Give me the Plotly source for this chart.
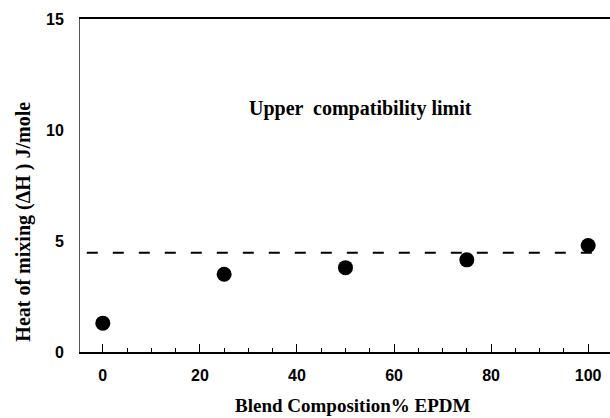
import plotly.graph_objects as go

# Data
composition = [0, 25, 50, 75, 100]           # % EPDM
heat_of_mixing = [1.3, 3.5, 3.8, 4.15, 4.8]   # J/mole
upper_limit = 4.47
limit_x = [-3.3, 103.5]
x_ticks = [0, 20, 40, 60, 80, 100]
y_ticks = [0, 5, 10, 15]

serif = "Liberation Serif, Times New Roman, serif"
sans = "Liberation Sans, Arial, sans-serif"

fig = go.Figure()
fig.add_trace(go.Scatter(
    x=limit_x, y=[upper_limit] * len(limit_x), mode="lines",
    line=dict(color="black", width=2, dash="11px,15px"),
    hoverinfo="skip", showlegend=False))
fig.add_trace(go.Scatter(
    x=composition, y=heat_of_mixing, mode="markers",
    marker=dict(color="black", size=15), showlegend=False))

fig.add_annotation(x=53, y=10.95, text="<b>Upper  compatibility limit</b>",
                   showarrow=False, font=dict(family=serif, size=20, color="black"))

# y-axis title (placed slightly below centre, as in the original)
fig.add_annotation(xref="paper", yref="paper", x=0, y=0.39, xshift=-70,
                   text="<b>Heat of mixing (ΔH ) J/mole</b>", textangle=-90,
                   showarrow=False, font=dict(family=serif, size=20, color="black"))

# x-axis title
fig.add_annotation(xref="x", yref="paper", x=51.5, y=0, yshift=-53, yanchor="middle",
                   text="<b>Blend Composition% EPDM</b>",
                   showarrow=False, font=dict(family=serif, size=19, color="black"))

fig.update_layout(
    width=610, height=418,
    margin=dict(l=80, r=0, t=19, b=66),
    paper_bgcolor="white", plot_bgcolor="white",
    xaxis=dict(
        range=[-4.7, 104.5], tickvals=x_ticks, ticktext=[f"<b>{v}</b>" for v in x_ticks],
        showgrid=False, zeroline=False, showline=True, linecolor="black", linewidth=1.5,
        mirror=True, ticks="inside", ticklen=8, tickwidth=1, tickcolor="black",
        minor=dict(dtick=5, ticks="inside", ticklen=4, tickwidth=1, tickcolor="black", showgrid=False),
        tickfont=dict(family=sans, size=16, color="black"), ticklabelstandoff=8,
    ),
    yaxis=dict(
        range=[0, 15], tickvals=y_ticks, ticktext=[f"<b>{v}</b>" for v in y_ticks],
        showgrid=False, zeroline=False, showline=True, linecolor="#555", linewidth=1,
        ticks="", tickfont=dict(family=sans, size=16, color="black"), ticklabelstandoff=12,
    ),
)

fig.write_html("out.html", config={"displayModeBar": False},
               post_script="document.body.style.margin='0px';")
